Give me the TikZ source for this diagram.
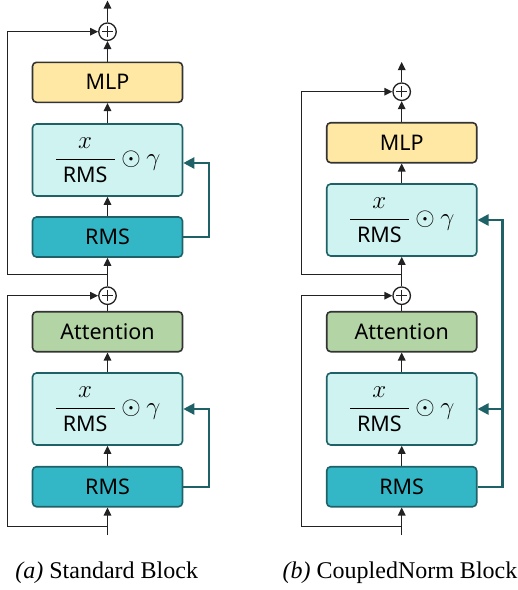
\RequirePackage{fix-cm}
\documentclass[tikz,border=0pt]{standalone}
\usepackage{fontspec}
\setmainfont{Liberation Serif}
\newfontfamily\noto{Noto Sans}
\usetikzlibrary{arrows.meta}
\definecolor{mlpfill}{HTML}{FFE8A3}
\definecolor{attfill}{HTML}{B3D4A5}
\definecolor{normfill}{HTML}{CFF3F1}
\definecolor{rmsfill}{HTML}{33B6C6}
\definecolor{tealdark}{HTML}{1E6268}
\definecolor{bordergray}{HTML}{333333}
\definecolor{linegray}{HTML}{222222}
\newcommand{\nodefont}{\noto\fontsize{21.5}{25}\selectfont}
\newcommand{\mathlabel}{\raisebox{2.5pt}{\fontsize{25}{29}\selectfont$\displaystyle\frac{x}{\hspace{7pt}\mbox{\nodefont RMS}\hspace{7pt}}\odot\gamma$}}
\tikzset{
  blk/.style={draw=bordergray, line width=1.6pt, rounded corners=4pt, minimum width=150pt, minimum height=40pt, inner sep=0pt, font=\nodefont},
  mlpbox/.style={blk, fill=mlpfill},
  attbox/.style={blk, fill=attfill},
  normbox/.style={blk, draw=tealdark, fill=normfill, minimum height=72pt},
  rmsbox/.style={blk, draw=tealdark, fill=rmsfill},
  plusnode/.style={circle, draw=linegray, line width=1.3pt, minimum size=17.5pt, inner sep=0pt, fill=white,
    path picture={\draw[line width=1.3pt, linegray] ([xshift=-5.5pt]path picture bounding box.center) -- ([xshift=5.5pt]path picture bounding box.center);
                  \draw[line width=1.3pt, linegray] ([yshift=-5.5pt]path picture bounding box.center) -- ([yshift=5.5pt]path picture bounding box.center);}},
  conn/.style={-{Triangle[length=8pt,width=7.5pt]}, line width=1.4pt, draw=linegray},
  plainline/.style={line width=1.4pt, draw=linegray},
  tealline/.style={line width=2.4pt, draw=tealdark},
  tealarr/.style={tealline, -{Triangle[length=11pt,width=11pt]}},
  captext/.style={font=\fontsize{24}{28}\selectfont, inner sep=0pt},
}
\begin{document}
\begin{tikzpicture}[x=1pt,y=-1pt]
\useasboundingbox (0,0) rectangle (518,590);
% ---------- column (a) ----------
\node[plusnode] (plusA1) at (107.5,31.7) {};
\node[mlpbox] (mlpA) at (107.5,82.3) {MLP};
\node[normbox] (normA1) at (107.5,160) {\mathlabel};
\node[rmsbox] (rmsA1) at (107.5,237) {RMS};
\node[plusnode] (plusA2) at (107.5,295.7) {};
\node[attbox] (attA) at (107.5,331.7) {Attention};
\node[normbox] (normA2) at (107.5,409) {\mathlabel};
\node[rmsbox] (rmsA2) at (107.5,486.7) {RMS};
\coordinate (outA) at (107.5,0.5);
\coordinate (jA1) at (107.5,274.5);
\coordinate (sA1) at (7.5,274.5);
\coordinate (jA2) at (107.5,526.5);
\coordinate (sA2) at (7.5,526.5);
\coordinate (inA) at (107.5,535);

\draw[conn] (plusA1) -- (outA);
\draw[conn] (mlpA) -- (plusA1);
\draw[conn] (normA1) -- (mlpA);
\draw[conn] (rmsA1) -- (normA1);
\draw[conn] (plusA2) -- (rmsA1);
\draw[conn] (jA1) -- (sA1) |- (plusA1.west);
\draw[plainline] (attA) -- (plusA2);
\draw[conn] (normA2) -- (attA);
\draw[conn] (rmsA2) -- (normA2);
\draw[conn] (inA) -- (rmsA2);
\draw[conn] (jA2) -- (sA2) |- (plusA2.west);
\draw[tealarr] (rmsA1.east) -- ++(25.6,0) |- ([yshift=-3pt]normA1.east);
\draw[tealarr] (rmsA2.east) -- ++(25.6,0) |- (normA2.east);

% ---------- column (b) ----------
\node[plusnode] (plusB1) at (401.7,91.7) {};
\node[mlpbox] (mlpB) at (401.7,142.7) {MLP};
\node[normbox] (normB1) at (401.7,220) {\mathlabel};
\node[plusnode] (plusB2) at (401.7,295.7) {};
\node[attbox] (attB) at (401.7,331.7) {Attention};
\node[normbox] (normB2) at (401.7,409) {\mathlabel};
\node[rmsbox] (rmsB) at (401.7,486.7) {RMS};
\coordinate (outB) at (401.7,62);
\coordinate (jB1) at (401.7,274.5);
\coordinate (sB1) at (301.7,274.5);
\coordinate (jB2) at (401.7,526.5);
\coordinate (sB2) at (301.7,526.5);
\coordinate (inB) at (401.7,535);

\draw[conn] (plusB1) -- (outB);
\draw[conn] (mlpB) -- (plusB1);
\draw[conn] (normB1) -- (mlpB);
\draw[conn] (plusB2) -- (normB1);
\draw[conn] (jB1) -- (sB1) |- (plusB1.west);
\draw[plainline] (attB) -- (plusB2);
\draw[conn] (normB2) -- (attB);
\draw[conn] (rmsB) -- (normB2);
\draw[conn] (inB) -- (rmsB);
\draw[conn] (jB2) -- (sB2) |- (plusB2.west);
\draw[tealarr] (rmsB.east) -- ++(25,0) coordinate (tB) |- (normB1.east);
\draw[tealarr] (tB |- normB2.east) -- (normB2.east);

% ---------- captions ----------
\node[captext] (capA) at (106.7,573) {\textit{(a)} Standard Block};
\node[captext] (capB) at (400,573) {\textit{(b)} CoupledNorm Block};
\end{tikzpicture}
\end{document}
